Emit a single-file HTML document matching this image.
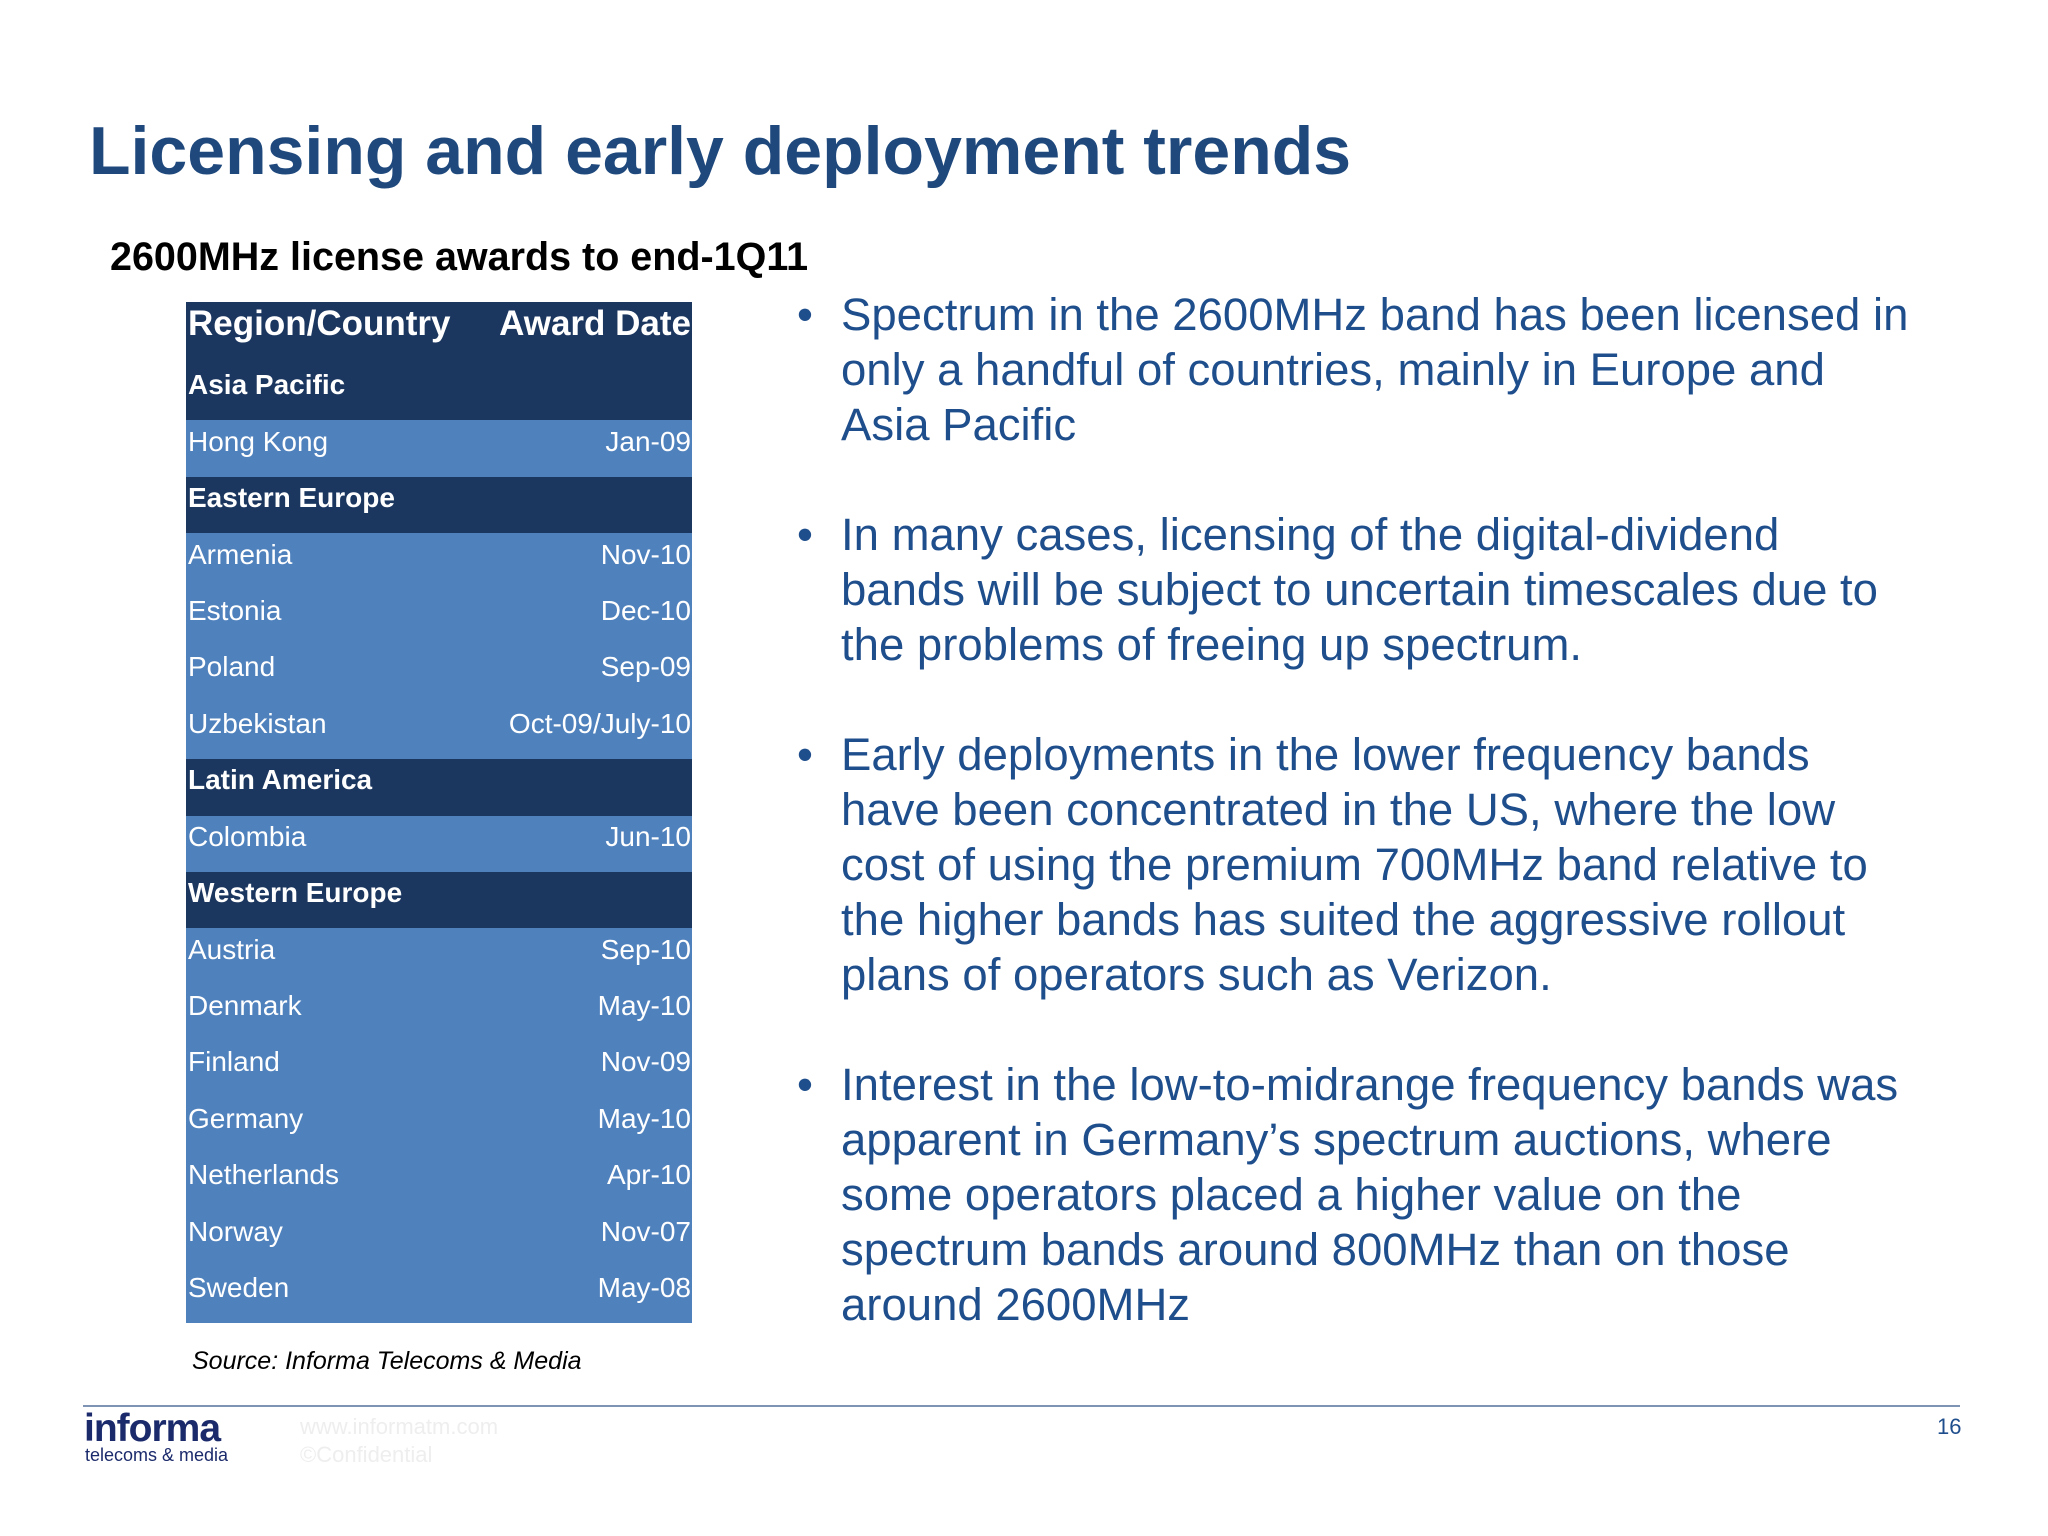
<!DOCTYPE html>
<html><head><meta charset="utf-8"><style>
body{margin:0;width:2048px;height:1536px;background:#fff;position:relative;overflow:hidden;font-family:"Liberation Sans",Arial,sans-serif}
.abs{position:absolute;white-space:nowrap}
#title{left:89px;top:112px;font-size:68px;font-weight:bold;color:#1f497d}
#sub{left:110px;top:235px;font-size:39.5px;font-weight:bold;color:#000}
#tbl{position:absolute;left:186px;top:302px;width:506px}
.row{height:56.45px;display:flex;justify-content:space-between;align-items:center;color:#fff;font-size:28px;padding:0 1px 14px 2px;box-sizing:border-box}
.dark{background:#1b365f;font-weight:bold}
.light{background:#4f81bd}
.hdr{height:62px;font-size:35px;font-weight:bold;background:#1b365f;padding-bottom:18px}
#bul{position:absolute;left:797px;top:287px;width:1250px;font-size:45.5px;line-height:55px;color:#1f4e8c}
.b{position:relative;padding-left:44px;margin-bottom:55px}
.b:before{content:"•";position:absolute;left:0;top:0}
</style></head><body>
<div class="abs" id="title">Licensing and early deployment trends</div>
<div class="abs" id="sub">2600MHz license awards to end-1Q11</div>
<div id="tbl">
<div class="row hdr"><span>Region/Country</span><span>Award Date</span></div>
<div class="row dark"><span>Asia Pacific</span></div>
<div class="row light"><span>Hong Kong</span><span>Jan-09</span></div>
<div class="row dark"><span>Eastern Europe</span></div>
<div class="row light"><span>Armenia</span><span>Nov-10</span></div>
<div class="row light"><span>Estonia</span><span>Dec-10</span></div>
<div class="row light"><span>Poland</span><span>Sep-09</span></div>
<div class="row light"><span>Uzbekistan</span><span>Oct-09/July-10</span></div>
<div class="row dark"><span>Latin America</span></div>
<div class="row light"><span>Colombia</span><span>Jun-10</span></div>
<div class="row dark"><span>Western Europe</span></div>
<div class="row light"><span>Austria</span><span>Sep-10</span></div>
<div class="row light"><span>Denmark</span><span>May-10</span></div>
<div class="row light"><span>Finland</span><span>Nov-09</span></div>
<div class="row light"><span>Germany</span><span>May-10</span></div>
<div class="row light"><span>Netherlands</span><span>Apr-10</span></div>
<div class="row light"><span>Norway</span><span>Nov-07</span></div>
<div class="row light"><span>Sweden</span><span>May-08</span></div>
</div>
<div class="abs" style="left:192px;top:1347px;font-size:25px;font-style:italic;color:#000">Source: Informa Telecoms &amp; Media</div>
<div id="bul">
<div class="b">Spectrum in the 2600MHz band has been licensed in<br>only a handful of countries, mainly in Europe and<br>Asia Pacific</div>
<div class="b">In many cases, licensing of the digital-dividend<br>bands will be subject to uncertain timescales due to<br>the problems of freeing up spectrum.</div>
<div class="b">Early deployments in the lower frequency bands<br>have been concentrated in the US, where the low<br>cost of using the premium 700MHz band relative to<br>the higher bands has suited the aggressive rollout<br>plans of operators such as Verizon.</div>
<div class="b">Interest in the low-to-midrange frequency bands was<br>apparent in Germany’s spectrum auctions, where<br>some operators placed a higher value on the<br>spectrum bands around 800MHz than on those<br>around 2600MHz</div>
</div>
<div class="abs" style="left:83px;top:1405px;width:1877px;height:2px;background:#7f93b5"></div>
<div class="abs" style="left:84px;top:1407px;font-size:39px;font-weight:bold;color:#1b2a6b;letter-spacing:-1px">informa</div>
<div class="abs" style="left:85px;top:1445px;font-size:18px;color:#1b2a6b">telecoms &amp; media</div>
<div class="abs" style="left:300px;top:1413px;font-size:22px;color:#eeeeee;line-height:28px">www.informatm.com<br>©Confidential</div>
<div class="abs" style="left:1937px;top:1414px;font-size:22px;color:#1f4e8c">16</div>
</body></html>
